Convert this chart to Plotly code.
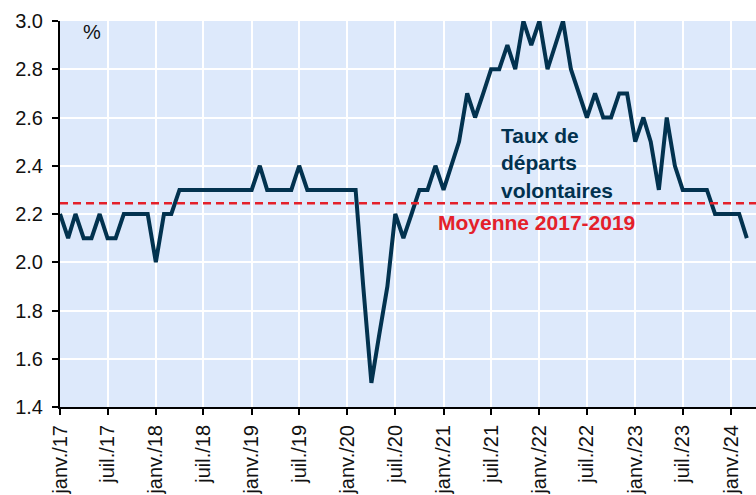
import pandas as pd
import plotly.graph_objects as go

NAVY = "#02324f"
RED = "#e4202a"
PLOT_BG = "#dde9fb"
FONT = "Liberation Sans, Arial, sans-serif"

# monthly voluntary quit rate, janv. 2017 -> mars 2024 (%)
MONTHS = pd.date_range("2017-01-01", periods=87, freq="MS")
QUIT_RATE = [
    2.2, 2.1, 2.2, 2.1, 2.1, 2.2, 2.1, 2.1, 2.2, 2.2, 2.2, 2.2,  # 2017
    2.0, 2.2, 2.2, 2.3, 2.3, 2.3, 2.3, 2.3, 2.3, 2.3, 2.3, 2.3,  # 2018
    2.3, 2.4, 2.3, 2.3, 2.3, 2.3, 2.4, 2.3, 2.3, 2.3, 2.3, 2.3,  # 2019
    2.3, 2.3, 1.9, 1.5, 1.7, 1.9, 2.2, 2.1, 2.2, 2.3, 2.3, 2.4,  # 2020
    2.3, 2.4, 2.5, 2.7, 2.6, 2.7, 2.8, 2.8, 2.9, 2.8, 3.0, 2.9,  # 2021
    3.0, 2.8, 2.9, 3.0, 2.8, 2.7, 2.6, 2.7, 2.6, 2.6, 2.7, 2.7,  # 2022
    2.5, 2.6, 2.5, 2.3, 2.6, 2.4, 2.3, 2.3, 2.3, 2.3, 2.2, 2.2,  # 2023
    2.2, 2.2, 2.1,                                               # 2024
]

TICK_DATES = pd.date_range("2017-01-01", "2024-01-01", freq="6MS")
TICK_LABELS = [
    "janv./17", "juil./17", "janv./18", "juil./18", "janv./19", "juil./19",
    "janv./20", "juil./20", "janv./21", "juil./21", "janv./22", "juil./22",
    "janv./23", "juil./23", "janv./24",
]

# average over 2017-2019 (first 36 months)
avg_2017_2019 = sum(QUIT_RATE[:36]) / 36

fig = go.Figure()
fig.add_trace(go.Scatter(
    x=MONTHS, y=QUIT_RATE, mode="lines",
    line=dict(color=NAVY, width=4), showlegend=False,
))
fig.add_hline(y=avg_2017_2019, line=dict(color=RED, width=2.5, dash="8px,5px"))

fig.add_annotation(x="2021-08-01", y=2.41, xref="x", yref="y", xanchor="left", yanchor="middle",
                   text="<b>Taux de<br>départs<br>volontaires</b>", showarrow=False, align="left",
                   font=dict(family=FONT, size=21, color=NAVY))
fig.add_annotation(x="2020-12-05", y=2.163, xref="x", yref="y", xanchor="left", yanchor="middle",
                   text="<b>Moyenne 2017-2019</b>", showarrow=False,
                   font=dict(family=FONT, size=21, color=RED))
fig.add_annotation(x="2017-05-01", y=2.955, xref="x", yref="y", xanchor="center", yanchor="middle",
                   text="%", showarrow=False, font=dict(family=FONT, size=20, color="#111111"))

fig.update_layout(
    width=756, height=495,
    paper_bgcolor="white", plot_bgcolor=PLOT_BG,
    margin=dict(l=60, r=0, t=21, b=88),
    font=dict(family=FONT, size=20, color="#111111"),
)
fig.update_xaxes(
    range=["2017-01-01", "2024-04-05"], automargin=False,
    tickvals=TICK_DATES, ticktext=TICK_LABELS, tickangle=-90, ticklabelstandoff=2,
    showgrid=True, gridcolor="white", gridwidth=2,
    showline=True, linecolor="black", linewidth=2,
    ticks="outside", ticklen=6, tickcolor="black", tickwidth=1.5,
    zeroline=False,
)
fig.update_yaxes(
    range=[1.4, 3.0], dtick=0.2, tickformat=".1f", automargin=False, ticklabelstandoff=5,
    showgrid=True, gridcolor="white", gridwidth=2,
    showline=True, linecolor="black", linewidth=2,
    ticks="outside", ticklen=6, tickcolor="black", tickwidth=1.5,
    zeroline=False,
)

# drop the default 8px page margin so the figure fills the window
fig.write_html(
    "out.html",
    config={"displayModeBar": False},
    post_script="document.body.style.margin='0';document.body.style.overflow='hidden';",
)
